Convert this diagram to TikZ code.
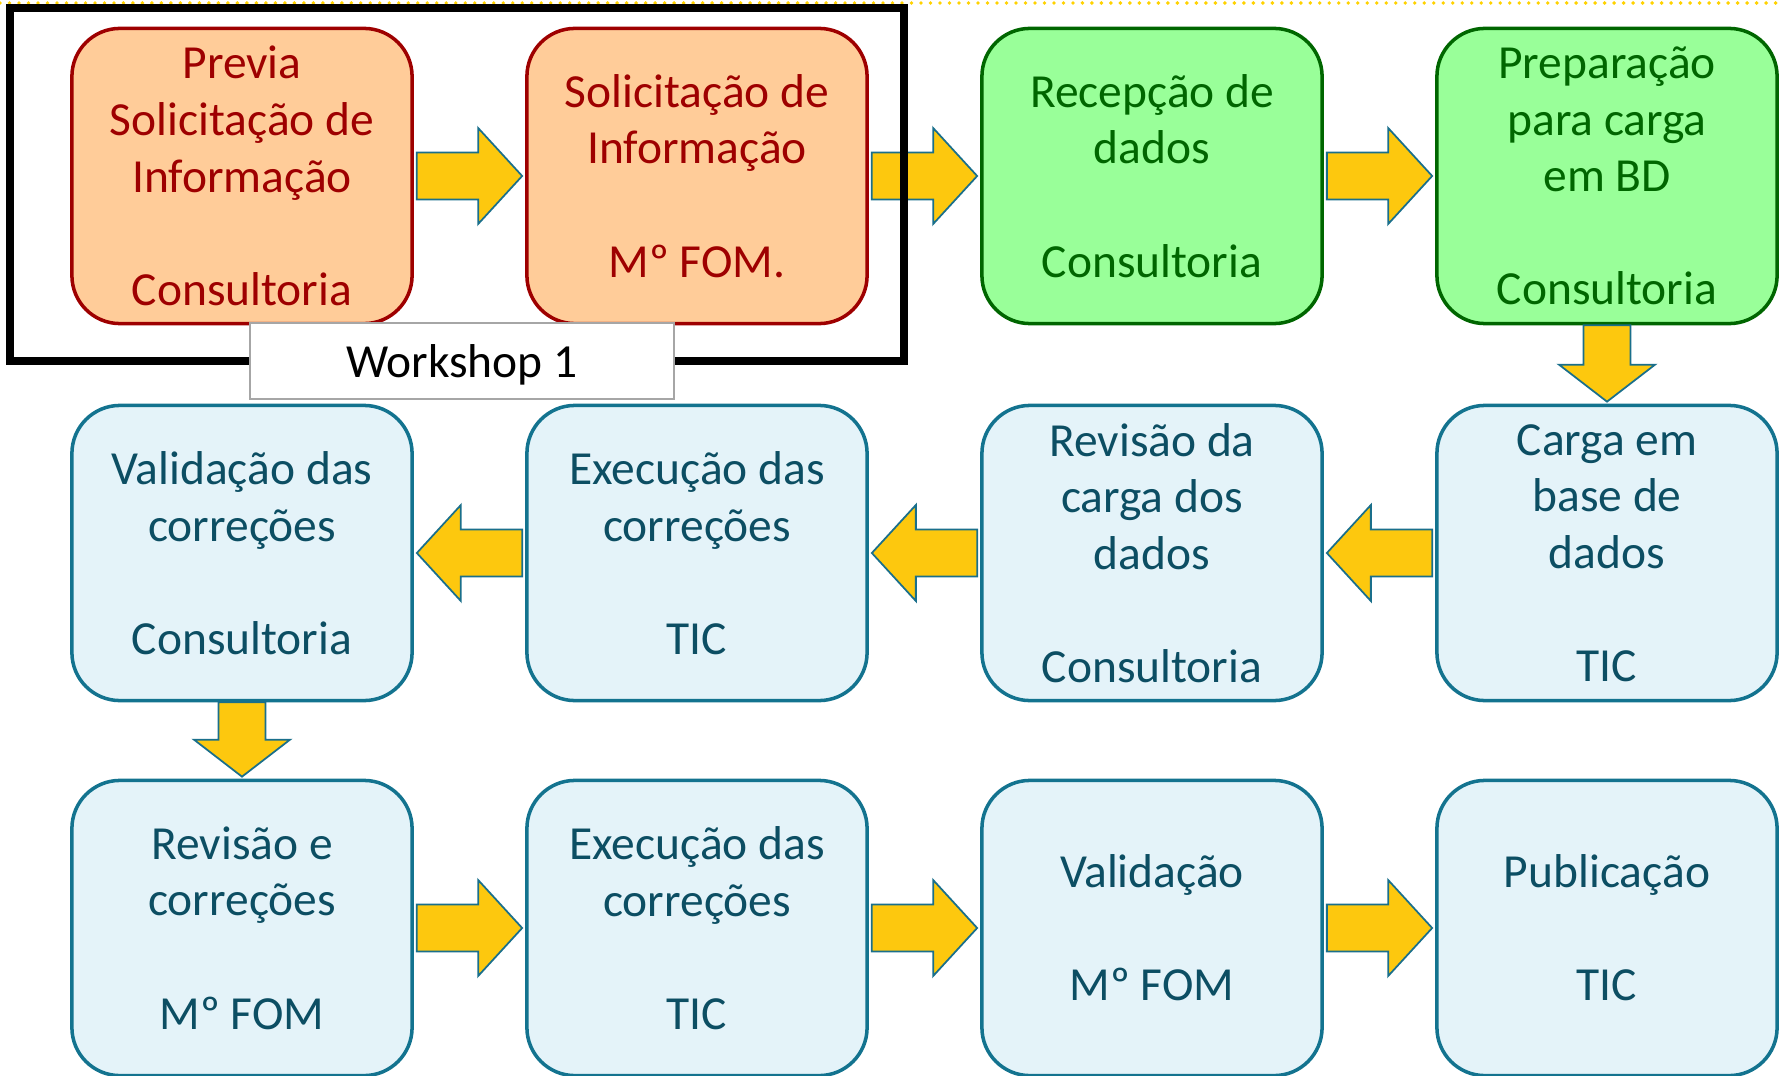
\documentclass[tikz,border=0pt]{standalone}
\usepackage{fontspec}
\setmainfont{Carlito}
\usetikzlibrary{calc}

\definecolor{peach}{HTML}{FFCC99}
\definecolor{brick}{HTML}{9E0000}
\definecolor{mint}{HTML}{99FF99}
\definecolor{forest}{HTML}{006600}
\definecolor{icefill}{HTML}{E4F3F9}
\definecolor{tealline}{HTML}{13738F}
\definecolor{tealtext}{HTML}{0C4E63}
\definecolor{gold}{HTML}{FDC80E}
\definecolor{arrowline}{HTML}{1A6F8B}
\definecolor{dotgold}{HTML}{FFD200}
\definecolor{wsline}{HTML}{A6A6A6}

\tikzset{
  stage/.style={draw, line width=1pt, rounded corners=0.48cm, minimum width=3.4cm,
    minimum height=2.95cm, align=center, inner sep=0pt,
    font=\fontsize{13.5pt}{16.1pt}\selectfont},
  request/.style={stage, fill=peach, draw=brick, text=brick},
  intake/.style={stage, fill=mint, draw=forest, text=forest},
  process/.style={stage, fill=icefill, draw=tealline, text=tealtext},
  blockarrow/.style={fill=gold, draw=arrowline, line width=0.5pt},
  wsframe/.style={draw=black, line width=2pt},
  workshop/.style={draw=wsline, fill=white, line width=0.5pt, minimum width=4.24cm,
    minimum height=0.76cm, text depth=0pt, font=\fontsize{13.5pt}{16.1pt}\selectfont},
  topdots/.style={draw=dotgold, line width=1.1pt, line cap=round, dash pattern=on 0pt off 2.7pt}
}

% block arrows between two boxes
\newcommand{\rightblock}[2]{%
  \draw[blockarrow] ($(#1.east)+(3,-23.5)$) -- ($(#2.west)+(-47,-23.5)$)
    -- ($(#2.west)+(-47,-48)$) -- ($(#2.west)+(-3,0)$) -- ($(#2.west)+(-47,48)$)
    -- ($(#2.west)+(-47,23.5)$) -- ($(#1.east)+(3,23.5)$) -- cycle;}
\newcommand{\leftblock}[2]{%
  \draw[blockarrow] ($(#1.west)+(-3,-23.5)$) -- ($(#2.east)+(47,-23.5)$)
    -- ($(#2.east)+(47,-48)$) -- ($(#2.east)+(3,0)$) -- ($(#2.east)+(47,48)$)
    -- ($(#2.east)+(47,23.5)$) -- ($(#1.west)+(-3,23.5)$) -- cycle;}
\newcommand{\downblock}[2]{%
  \draw[blockarrow] ($(#1.south)+(-23.5,0)$) -- ($(#2.north)+(-23.5,-39)$)
    -- ($(#2.north)+(-48,-39)$) -- ($(#2.north)+(0,-2)$) -- ($(#2.north)+(48,-39)$)
    -- ($(#2.north)+(23.5,-39)$) -- ($(#1.south)+(23.5,0)$) -- cycle;}

\begin{document}
\begin{tikzpicture}[x=0.01cm, y=-0.01cm]
    \useasboundingbox (0,0) rectangle (1779,1076);
    \draw[topdots] (0,3) -- (1779,3);

    % first row
    \node[request] (previa) at (242,176) {Previa\\Solicitação de\\Informação\\[\baselineskip]Consultoria};
    \node[request] (solicit) at (697,176) {Solicitação de\\Informação\\[\baselineskip]Mº FOM.};
    \node[intake] (recepcao) at (1152,176) {Recepção de\\dados\\[\baselineskip]Consultoria};
    \node[intake] (preparacao) at (1607,176) {Preparação\\para carga\\em BD\\[\baselineskip]Consultoria};

    % second row
    \node[process] (validacao) at (242,553) {Validação das\\correções\\[\baselineskip]Consultoria};
    \node[process] (execucao) at (697,553) {Execução das\\correções\\[\baselineskip]TIC};
    \node[process] (revisao) at (1152,553) {Revisão da\\carga dos\\dados\\[\baselineskip]Consultoria};
    \node[process] (carga) at (1607,553) {Carga em\\base de\\dados\\[\baselineskip]TIC};

    % third row
    \node[process] (revcorr) at (242,928) {Revisão e\\correções\\[\baselineskip]Mº FOM};
    \node[process] (execfinal) at (697,928) {Execução das\\correções\\[\baselineskip]TIC};
    \node[process] (validfinal) at (1152,928) {Validação\\[\baselineskip]Mº FOM};
    \node[process] (publicacao) at (1607,928) {Publicação\\[\baselineskip]TIC};

    \rightblock{previa}{solicit}
    \rightblock{solicit}{recepcao}
    \rightblock{recepcao}{preparacao}
    \downblock{preparacao}{carga}
    \leftblock{carga}{revisao}
    \leftblock{revisao}{execucao}
    \leftblock{execucao}{validacao}
    \downblock{validacao}{revcorr}
    \rightblock{revcorr}{execfinal}
    \rightblock{execfinal}{validfinal}
    \rightblock{validfinal}{publicacao}

    \draw[wsframe] (10,8) rectangle (904,361);
    \node[workshop] (ws) at (462,361) {Workshop 1};
\end{tikzpicture}
\end{document}
